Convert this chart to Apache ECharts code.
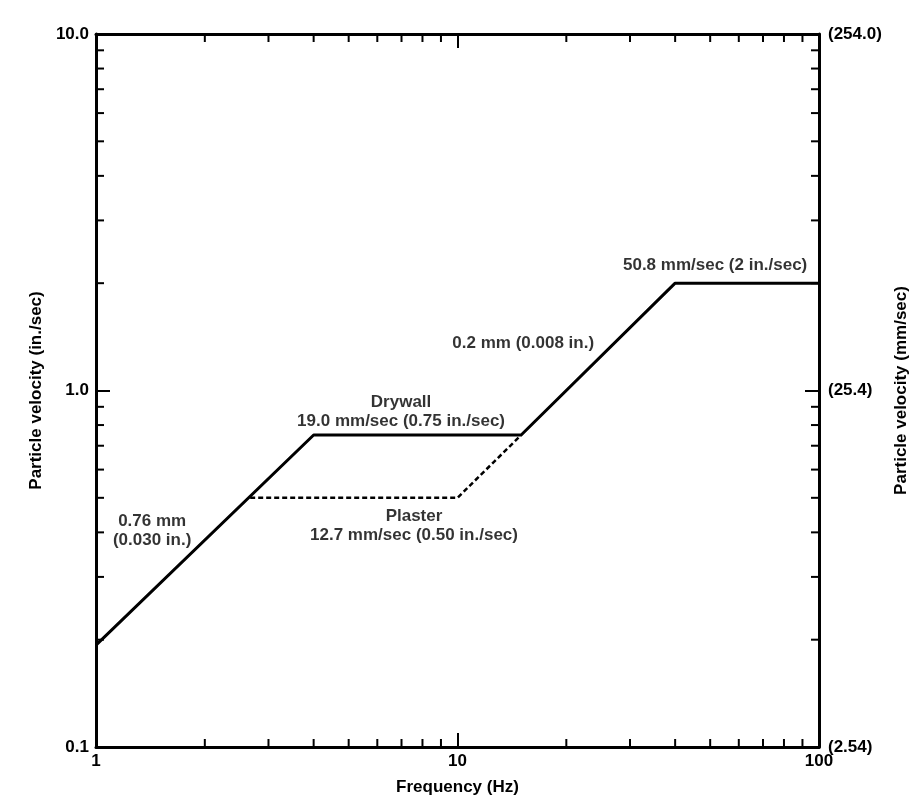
<!DOCTYPE html>
<html>
<head>
<meta charset="utf-8">
<script src="https://cdn.jsdelivr.net/npm/echarts@6/dist/echarts.min.js"></script>
<style>
html,body{margin:0;padding:0;background:#fff;}
#chart{width:920px;height:812px;}
</style>
</head>
<body>
<div id="chart"></div>
<script>
// ---- data ----
const freqTickLabels = ['1', '10', '100'];
const velTickLabelsIn = ['0.1', '1.0', '10.0'];
const velTickLabelsMm = ['(2.54)', '(25.4)', '(254.0)'];

const drywallFreq = [1, 4, 15, 40, 100];
const drywallVel = [0.193, 0.75, 0.75, 2, 2];

const plasterFreq = [2.67, 10, 15];
const plasterVel = [0.5, 0.5, 0.75];

const minorFreq = [2, 3, 4, 5, 6, 7, 8, 9, 20, 30, 40, 50, 60, 70, 80, 90];
const minorVel = [0.2, 0.3, 0.4, 0.5, 0.6, 0.7, 0.8, 0.9, 2, 3, 4, 5, 6, 7, 8, 9];

const annoFreq = [1.43, 6.98, 7.58, 15.2, 51.6];
const annoVel = [0.404, 0.870, 0.418, 1.36, 2.25];
const annoText = [
  '0.76 mm\n(0.030 in.)',
  'Drywall\n19.0 mm/sec (0.75 in./sec)',
  'Plaster\n12.7 mm/sec (0.50 in./sec)',
  '0.2 mm (0.008 in.)',
  '50.8 mm/sec (2 in./sec)'
];

// ---- build ----
const FONT = '"Liberation Sans", Arial, Helvetica, sans-serif';
const X_MIN = 1, X_MAX = 100, Y_MIN = 0.1, Y_MAX = 10;

const tickData = [];
minorFreq.forEach(v => { tickData.push([v, Y_MIN, 0]); tickData.push([v, Y_MAX, 1]); });
minorVel.forEach(v => { tickData.push([X_MIN, v, 2]); tickData.push([X_MAX, v, 3]); });

const idx = (v, base) => Math.round(Math.log10(v)) - base;

const axisLineStyle = { lineStyle: { color: '#000', width: 3 } };
const majorTick = { show: true, inside: true, length: 14, lineStyle: { color: '#000', width: 2 } };
const labelBase = { color: '#000', fontSize: 17, fontWeight: 'bold', fontFamily: FONT };
const nameBase = { color: '#000', fontSize: 17, fontWeight: 'bold', fontFamily: FONT };

const chart = echarts.init(document.getElementById('chart'));
chart.setOption({
  animation: false,
  backgroundColor: '#fff',
  grid: { left: 96, right: 101, top: 34, bottom: 65 },
  xAxis: [
    {
      type: 'log', logBase: 10, min: X_MIN, max: X_MAX, position: 'bottom',
      axisLine: axisLineStyle, axisTick: majorTick, splitLine: { show: false },
      axisLabel: Object.assign({ margin: 6, formatter: v => freqTickLabels[idx(v, 0)] }, labelBase),
      name: 'Frequency (Hz)', nameLocation: 'middle', nameGap: 32, nameTextStyle: nameBase
    },
    {
      type: 'log', logBase: 10, min: X_MIN, max: X_MAX, position: 'top',
      axisLine: axisLineStyle, axisTick: majorTick, splitLine: { show: false },
      axisLabel: { show: false }
    }
  ],
  yAxis: [
    {
      type: 'log', logBase: 10, min: Y_MIN, max: Y_MAX, position: 'left',
      axisLine: axisLineStyle, axisTick: majorTick, splitLine: { show: false },
      axisLabel: Object.assign({ margin: 7, formatter: v => velTickLabelsIn[idx(v, -1)] }, labelBase),
      name: 'Particle velocity (in./sec)', nameLocation: 'middle', nameGap: 48, nameTextStyle: nameBase
    },
    {
      type: 'log', logBase: 10, min: Y_MIN, max: Y_MAX, position: 'right',
      axisLine: axisLineStyle, axisTick: majorTick, splitLine: { show: false },
      axisLabel: Object.assign({ margin: 9, formatter: v => velTickLabelsMm[idx(v, -1)] }, labelBase),
      name: 'Particle velocity (mm/sec)', nameLocation: 'middle', nameGap: 70, nameTextStyle: nameBase
    }
  ],
  series: [
    {
      type: 'line', xAxisIndex: 0, yAxisIndex: 0, symbol: 'none', z: 3,
      lineStyle: { color: '#000', width: 3 },
      data: drywallFreq.map((f, i) => [f, drywallVel[i]])
    },
    {
      type: 'line', xAxisIndex: 0, yAxisIndex: 0, symbol: 'none', z: 3,
      lineStyle: { color: '#000', width: 2.5, type: [5, 3] },
      data: plasterFreq.map((f, i) => [f, plasterVel[i]])
    },
    {
      type: 'custom', xAxisIndex: 0, yAxisIndex: 0, clip: false, z: 4,
      data: tickData,
      renderItem: function (params, api) {
        const p = api.coord([api.value(0), api.value(1)]);
        const d = api.value(2);
        const L = 8;
        let x2 = p[0], y2 = p[1];
        if (d === 0) y2 = p[1] - L;
        else if (d === 1) y2 = p[1] + L;
        else if (d === 2) x2 = p[0] + L;
        else x2 = p[0] - L;
        return {
          type: 'line',
          shape: { x1: p[0], y1: p[1], x2: x2, y2: y2 },
          style: { stroke: '#000', lineWidth: 2 }
        };
      }
    },
    {
      type: 'scatter', xAxisIndex: 0, yAxisIndex: 0, symbolSize: 1, z: 5,
      itemStyle: { color: 'rgba(0,0,0,0)' },
      silent: true,
      data: annoFreq.map((f, i) => ({ name: annoText[i], value: [f, annoVel[i]] })),
      label: {
        show: true, position: 'inside', formatter: '{b}',
        align: 'center', verticalAlign: 'middle',
        color: '#000', fontSize: 17, fontWeight: 'bold', lineHeight: 19, fontFamily: FONT
      }
    }
  ]
});
</script>
</body>
</html>
